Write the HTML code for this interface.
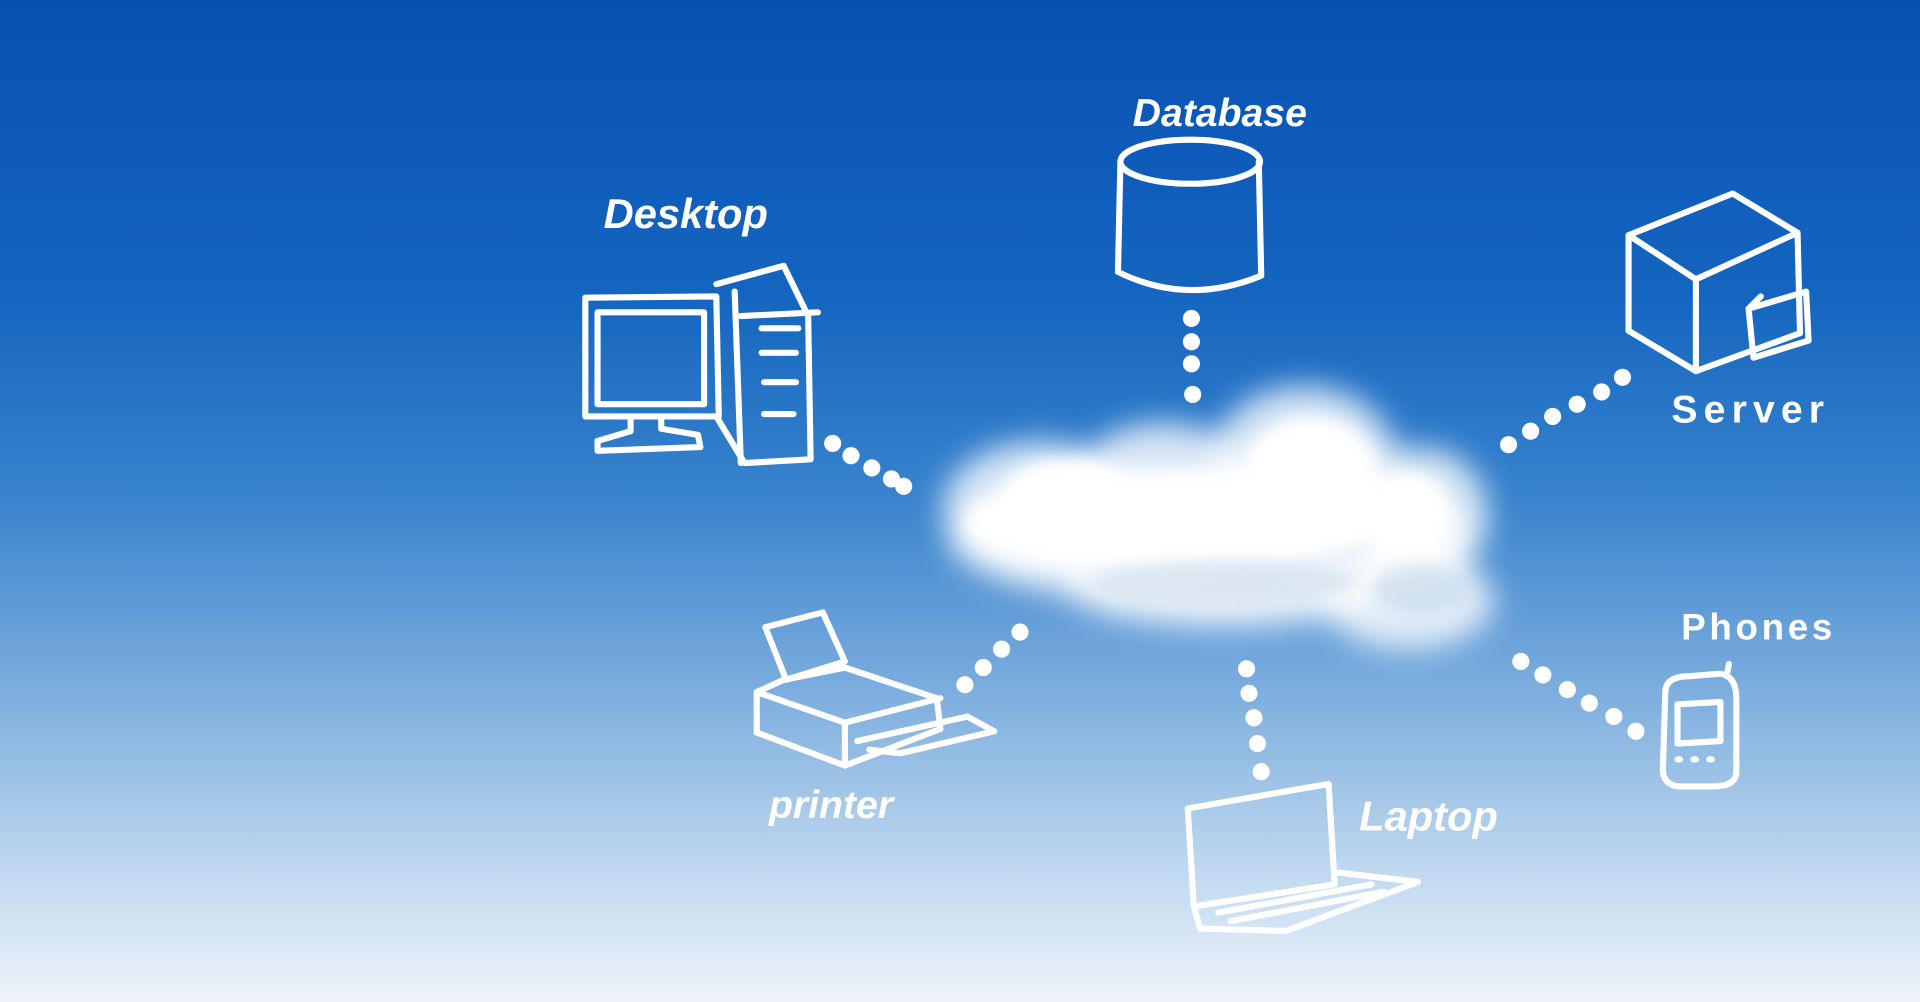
<!DOCTYPE html>
<html><head><meta charset="utf-8"><style>
html,body{margin:0;padding:0;width:1920px;height:1002px;overflow:hidden}
svg{display:block}
text{font-family:"Liberation Sans",sans-serif;fill:#fff;font-weight:bold}
</style></head><body>
<svg width="1920" height="1002" viewBox="0 0 1568 818" preserveAspectRatio="none" xmlns="http://www.w3.org/2000/svg">
<defs>
<linearGradient id="bg" x1="0" y1="0" x2="0" y2="1">
<stop offset="0" stop-color="#0750b2"/>
<stop offset="0.3" stop-color="#1566c0"/>
<stop offset="0.5" stop-color="#3a84cd"/>
<stop offset="0.7" stop-color="#80b0df"/>
<stop offset="0.88" stop-color="#c4dbf0"/>
<stop offset="1" stop-color="#edf3f9"/>
</linearGradient>
<filter id="blur" x="-30%" y="-30%" width="160%" height="160%"><feGaussianBlur stdDeviation="12"/></filter>
<filter id="blur2" x="-30%" y="-30%" width="160%" height="160%"><feGaussianBlur stdDeviation="6"/></filter>
</defs>
<rect width="1568" height="818" fill="url(#bg)"/>
<!-- cloud -->
<g filter="url(#blur)" fill="#fff" fill-opacity="0.8">
<ellipse cx="990" cy="440" rx="215" ry="55"/>
<ellipse cx="850" cy="415" rx="80" ry="55"/>
<ellipse cx="950" cy="400" rx="75" ry="55"/>
<ellipse cx="1065" cy="375" rx="75" ry="60"/>
<ellipse cx="1160" cy="420" rx="55" ry="55"/>
<ellipse cx="1150" cy="490" rx="70" ry="40"/>
<ellipse cx="1000" cy="480" rx="130" ry="32"/>
</g>
<g filter="url(#blur2)" fill="#fff">
<ellipse cx="960" cy="425" rx="170" ry="40"/>
<ellipse cx="1070" cy="385" rx="55" ry="45"/>
<ellipse cx="870" cy="410" rx="55" ry="35"/>
<ellipse cx="1150" cy="420" rx="35" ry="35"/>
</g>
<g filter="url(#blur2)" fill="#c8d8ea" fill-opacity="0.6">
<ellipse cx="1000" cy="475" rx="110" ry="18"/>
<ellipse cx="1160" cy="480" rx="40" ry="20"/>
</g>
<g fill="#fff">
<circle cx="680" cy="362" r="7"/><circle cx="695" cy="372" r="7"/><circle cx="712" cy="382" r="7"/><circle cx="728" cy="391" r="7"/><circle cx="738" cy="397" r="7"/>
<circle cx="973" cy="260" r="7"/><circle cx="973" cy="279" r="7"/><circle cx="973" cy="297" r="7"/><circle cx="974" cy="322" r="7"/>
<circle cx="1325" cy="308" r="7"/><circle cx="1308" cy="320" r="7"/><circle cx="1288" cy="330" r="7"/><circle cx="1268" cy="340" r="7"/><circle cx="1250" cy="352" r="7"/><circle cx="1232" cy="363" r="7"/>
<circle cx="833" cy="516" r="7"/><circle cx="818" cy="530" r="7"/><circle cx="803" cy="545" r="7"/><circle cx="788" cy="559" r="7"/>
<circle cx="1018" cy="546" r="7"/><circle cx="1020" cy="566" r="7"/><circle cx="1024" cy="586" r="7"/><circle cx="1027" cy="607" r="7"/><circle cx="1030" cy="630" r="7"/>
<circle cx="1242" cy="540" r="7"/><circle cx="1260" cy="551" r="7"/><circle cx="1280" cy="563" r="7"/><circle cx="1298" cy="574" r="7"/><circle cx="1318" cy="585" r="7"/><circle cx="1336" cy="597" r="7"/>
</g>
<g fill="none" stroke="#fff" stroke-width="5" stroke-linecap="round" stroke-linejoin="round">
<path d="M478 243 L585 242 L587 340 L478 340 Z"/>
<path d="M488 255 L575 255 L575 330 L488 330 Z"/>
<path d="M515 340 L515 352 L488 360 L488 368 L572 365 L570 355 L540 350 L540 340"/>
<path d="M585 232 L640 217 L660 258 L662 375 L608 378 L585 340"/>
<path d="M600 238 L605 378 M605 258 L668 255"/>
<path d="M622 268 L652 268 M622 288 L650 288 M624 312 L650 312 M624 338 L648 338"/>
<ellipse cx="972" cy="132" rx="57" ry="18"/>
<path d="M915 132 L913 222 Q970 250 1030 225 L1028 132"/>
<path d="M1330 192 L1415 158 L1468 190 L1470 272 L1385 303 L1330 270 Z"/>
<path d="M1330 192 L1385 228 L1468 190 M1385 228 L1385 303"/>
<path d="M1428 252 L1475 238 L1477 278 L1432 292 Z M1428 252 L1438 242"/>
<path d="M625 512 L672 500 L690 540 L642 555 Z"/>
<path d="M618 565 L640 555 L690 545 L765 570 L768 595 L690 625 L618 598 Z"/>
<path d="M618 565 L690 590 L768 570 M690 590 L690 625"/>
<path d="M700 605 L790 585 L812 597 L735 615 L710 612"/>
<path d="M970 660 L1085 640 L1090 722 L975 740 Z"/>
<path d="M975 740 L980 758 L1050 760 L1158 720 L1090 712"/>
<path d="M995 745 L1120 722 M1005 752 L1130 728"/>
<path d="M1360 565 Q1360 552 1380 552 L1405 550 Q1418 552 1418 570 L1418 632 Q1416 642 1400 642 L1370 642 Q1358 640 1358 628 Z"/>
<path d="M1370 575 L1405 573 L1405 605 L1370 607 Z"/>
<path d="M1410 552 L1412 542"/>
<path d="M1370 620 L1372 620 M1383 620 L1385 620 M1396 620 L1398 620"/>
</g>
<text x="493" y="186" font-size="34" font-style="italic">Desktop</text>
<text x="925" y="103" font-size="32" font-style="italic">Database</text>
<text x="1365" y="345" font-size="32" letter-spacing="5">Server</text>
<text x="1373" y="522" font-size="30" letter-spacing="3">Phones</text>
<text x="628" y="668" font-size="32" font-style="italic">printer</text>
<text x="1110" y="678" font-size="34" font-style="italic">Laptop</text>
</svg>
</body></html>
